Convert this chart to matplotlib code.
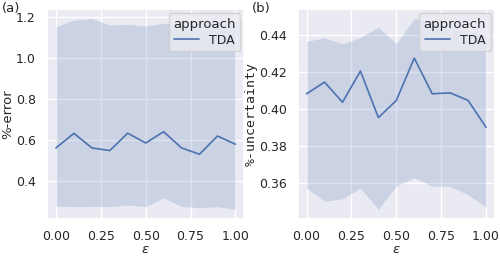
import numpy as np
import matplotlib
matplotlib.use('Agg')
import matplotlib.pyplot as plt
import seaborn as sns

# eps values and read-off curves
eps = [0.0, 0.1, 0.2, 0.3, 0.4, 0.5, 0.6, 0.7, 0.8, 0.9, 1.0]

err_mean = [0.563, 0.634, 0.563, 0.550, 0.635, 0.587, 0.642, 0.563, 0.532, 0.621, 0.581]
err_hi = [1.155, 1.187, 1.195, 1.163, 1.166, 1.158, 1.171, 1.168, 1.17, 1.18, 1.16]
err_lo = [0.279, 0.276, 0.277, 0.276, 0.284, 0.276, 0.319, 0.277, 0.271, 0.276, 0.263]

unc_mean = [0.4084, 0.4147, 0.4038, 0.4207, 0.3955, 0.4048, 0.4277, 0.4084, 0.4089, 0.4048, 0.3903]
unc_hi = [0.4368, 0.4386, 0.4354, 0.4388, 0.4444, 0.4356, 0.4491, 0.447, 0.445, 0.442, 0.440]
unc_lo = [0.3574, 0.3503, 0.3516, 0.3574, 0.3459, 0.3586, 0.3630, 0.3584, 0.3584, 0.3537, 0.3472]

sns.set_theme(style='darkgrid')
plt.rcParams['font.family'] = ['DejaVu Sans']
col = sns.color_palette()[0]

fig, (ax1, ax2) = plt.subplots(1, 2, figsize=(5, 2.56), dpi=100)
fig.subplots_adjust(left=0.094, right=0.99, top=0.965, bottom=0.145, wspace=0.27)

ax1.fill_between(eps, err_lo, err_hi, color=col, alpha=0.2, linewidth=0)
ax1.plot(eps, err_mean, color=col, lw=1.2, label='TDA')
ax1.set_ylabel('%-error', fontsize=9.5, labelpad=1)
ax1.set_yticks([0.4, 0.6, 0.8, 1.0, 1.2])

ax2.fill_between(eps, unc_lo, unc_hi, color=col, alpha=0.2, linewidth=0)
ax2.plot(eps, unc_mean, color=col, lw=1.2, label='TDA')
ax2.set_ylabel('%-uncertainty', fontsize=9.5, labelpad=1, family='DejaVu Sans Mono')
ax2.set_yticks([0.36, 0.38, 0.40, 0.42, 0.44])
ax2.set_yticklabels(['0.36', '0.38', '0.40', '0.42', '0.44'])

for ax in (ax1, ax2):
    ax.set_xlabel(r'$\epsilon$', fontsize=9.5, labelpad=0)
    ax.set_xticks([0.0, 0.25, 0.5, 0.75, 1.0])
    ax.tick_params(labelsize=9, pad=2)
    leg = ax.legend(title='approach', loc='upper right', fontsize=9,
                    title_fontsize=9.5, borderpad=0.35, handlelength=2.0,
                    labelspacing=0.25, borderaxespad=0.35)

fig.text(0.004, 0.955, '(a)', fontsize=9.5)
fig.text(0.504, 0.955, '(b)', fontsize=9.5)

fig.savefig('out.png', dpi=100)
